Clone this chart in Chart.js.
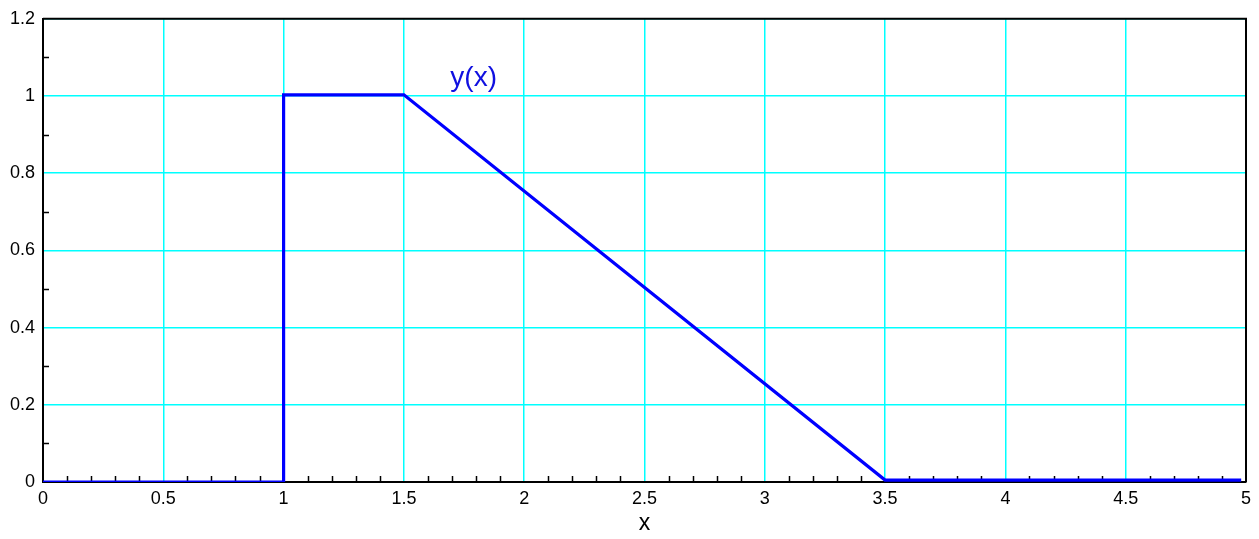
<!DOCTYPE html>
<html>
<head>
<meta charset="utf-8">
<script src="https://cdn.jsdelivr.net/npm/chart.js@4/dist/chart.umd.min.js"></script>
<style>
  html, body { margin: 0; padding: 0; background: #fff; }
  #wrap { width: 1259px; height: 539px; }
</style>
</head>
<body>
<div id="wrap"><canvas id="plot"></canvas></div>
<script>
// piecewise curve y(x)
const xValues = [0, 1, 1, 1.5, 3.5, 4.98];
const yValues = [0, 0, 1.003, 1.003, 0.005, 0.005];
const seriesLabel = 'y(x)';
const xTitle = 'x';
const xMinorTicks = [0.1, 0.2, 0.3, 0.4, 0.6, 0.7, 0.8, 0.9, 1.1, 1.2, 1.3, 1.4, 1.6, 1.7, 1.8, 1.9,
  2.1, 2.2, 2.3, 2.4, 2.6, 2.7, 2.8, 2.9, 3.1, 3.2, 3.3, 3.4, 3.6, 3.7, 3.8, 3.9,
  4.1, 4.2, 4.3, 4.4, 4.6, 4.7, 4.8, 4.9];
const yMinorTicks = [0.1, 0.3, 0.5, 0.7, 0.9, 1.1];

const FONT = "'Liberation Sans', Arial, Helvetica, sans-serif";
const GRID = '#00ffff';

// trims 1.0 -> 1, 0.60000001 -> 0.6
const tickText = v => String(Number(v.toFixed(2)));

// frame on top/right, inward minor ticks, and the curve label
const decorations = {
    id: 'decorations',
    beforeDatasetsDraw(chart) {
        const { ctx, chartArea: a, scales } = chart;
        ctx.save();
        ctx.strokeStyle = '#000';
        ctx.lineWidth = 1.5;
        ctx.beginPath();
        xMinorTicks.forEach(v => {
            const px = Math.round(scales.x.getPixelForValue(v)) + 0.5;
            ctx.moveTo(px, a.bottom);
            ctx.lineTo(px, a.bottom - 6);
        });
        yMinorTicks.forEach(v => {
            const py = Math.round(scales.y.getPixelForValue(v)) + 0.5;
            ctx.moveTo(a.left, py);
            ctx.lineTo(a.left + 6, py);
        });
        ctx.stroke();

        ctx.lineWidth = 2;
        ctx.beginPath();
        ctx.moveTo(a.left, a.top);
        ctx.lineTo(a.right, a.top);
        ctx.lineTo(a.right, a.bottom);
        ctx.stroke();
        ctx.restore();
    },
    afterDatasetsDraw(chart) {
        const { ctx, scales } = chart;
        ctx.save();
        ctx.fillStyle = '#1010e0';
        ctx.font = '28px ' + FONT;
        ctx.textAlign = 'center';
        ctx.textBaseline = 'middle';
        ctx.fillText(seriesLabel, scales.x.getPixelForValue(1.79), scales.y.getPixelForValue(1.046));
        ctx.restore();
    }
};

new Chart(document.getElementById('plot'), {
    type: 'line',
    data: {
        datasets: [{
            label: seriesLabel,
            data: xValues.map((x, i) => ({ x: x, y: yValues[i] })),
            borderColor: '#0000ff',
            borderWidth: 3.2,
            pointRadius: 0,
            tension: 0,
            fill: false
        }]
    },
    options: {
        responsive: true,
        maintainAspectRatio: false,
        animation: false,
        layout: { padding: { top: 18, right: 13, left: 0, bottom: 0 } },
        plugins: {
            legend: { display: false },
            tooltip: { enabled: false }
        },
        scales: {
            x: {
                type: 'linear',
                min: 0,
                max: 5,
                ticks: {
                    stepSize: 0.5,
                    color: '#000',
                    padding: 6,
                    maxRotation: 0,
                    font: { family: FONT, size: 18 },
                    callback: v => tickText(v)
                },
                grid: { color: GRID, lineWidth: 1.5, drawTicks: false },
                border: { color: '#000', width: 2 },
                title: {
                    display: true,
                    text: xTitle,
                    color: '#000',
                    font: { family: FONT, size: 23 },
                    padding: { top: 4, bottom: 2 }
                },
                afterFit(scale) { scale.height = 57; }
            },
            y: {
                min: 0,
                max: 1.2,
                ticks: {
                    stepSize: 0.2,
                    color: '#000',
                    padding: 8,
                    font: { family: FONT, size: 18 },
                    callback: v => tickText(v)
                },
                grid: { color: GRID, lineWidth: 1.5, drawTicks: false },
                border: { color: '#000', width: 2 },
                afterFit(scale) { scale.width = 43; }
            }
        }
    },
    plugins: [decorations]
});
</script>
</body>
</html>
